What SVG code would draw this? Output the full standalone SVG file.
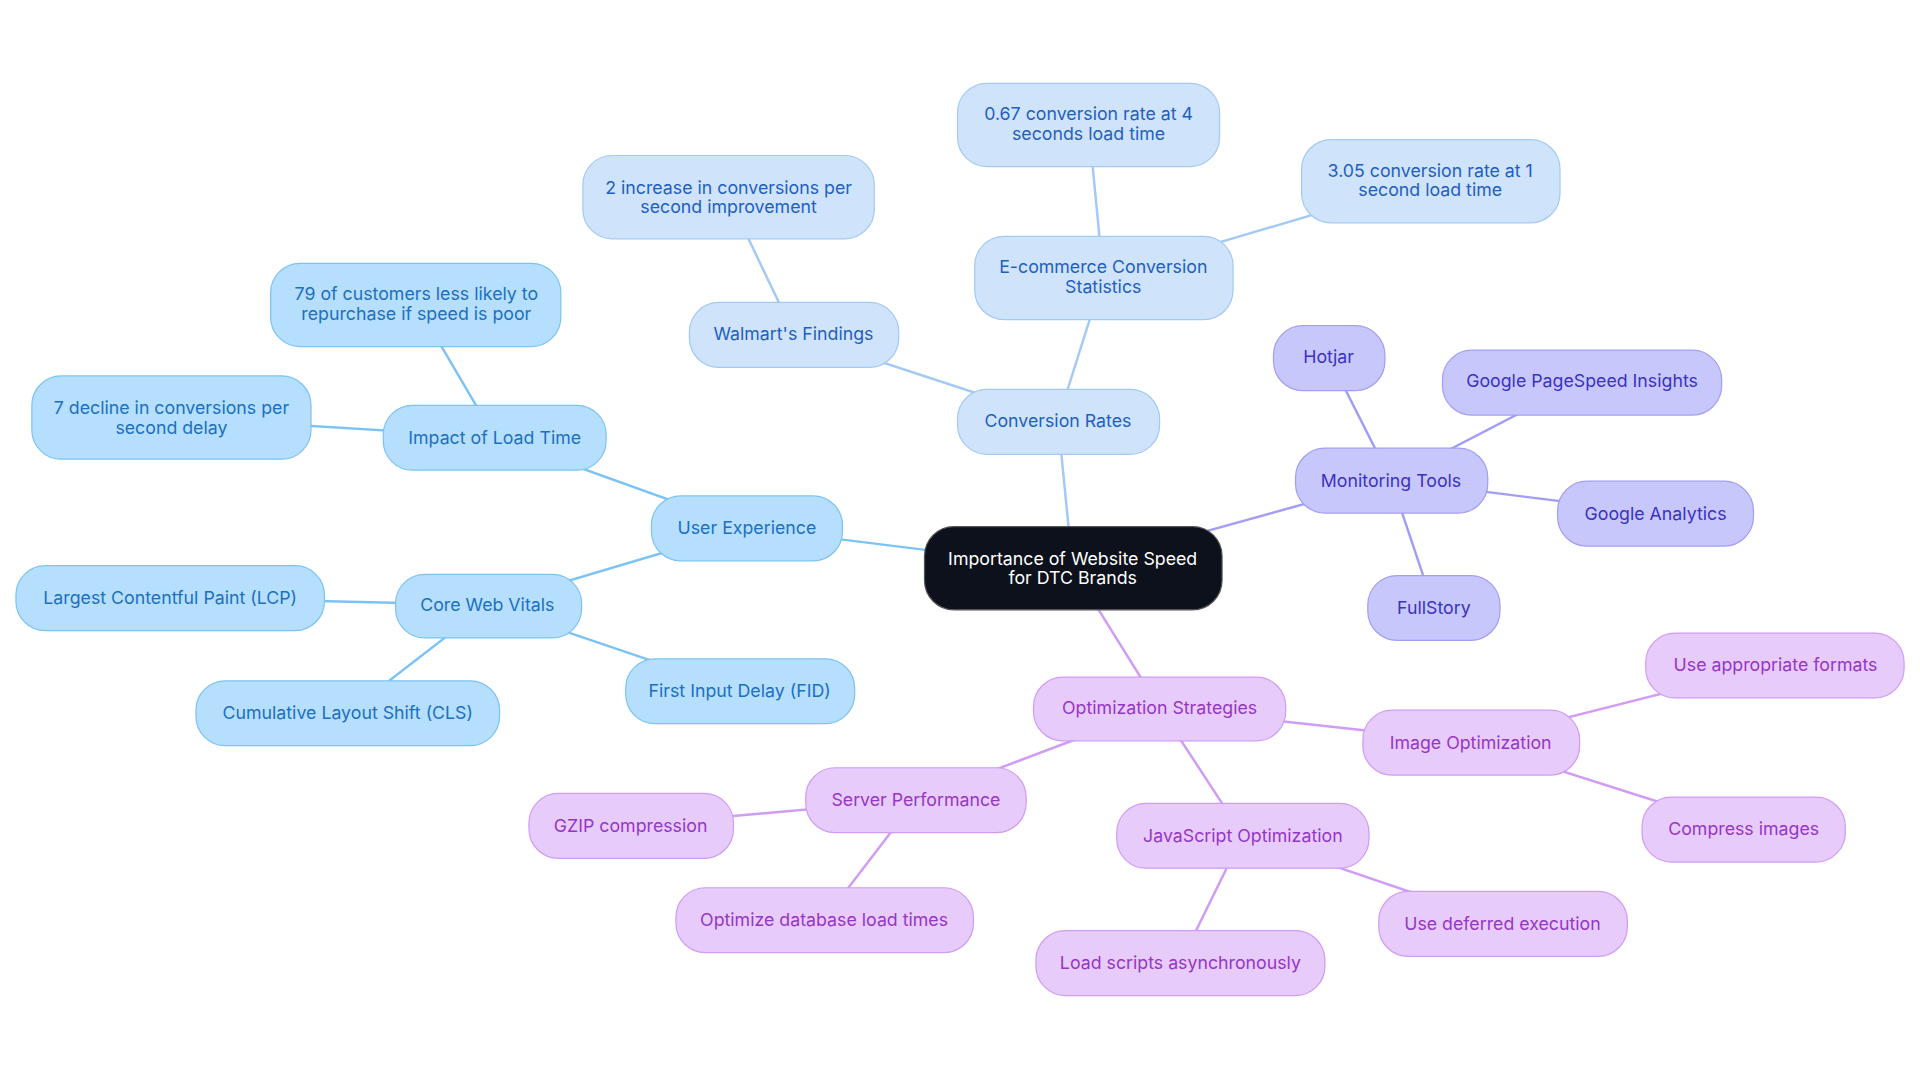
<svg xmlns="http://www.w3.org/2000/svg" width="1920" height="1083" viewBox="0 0 1920 1083">
<style>
text{font-family:Inter,"Liberation Sans",sans-serif;font-size:14.5px;text-anchor:middle;dominant-baseline:central}
.b rect{fill:#b5dffc;stroke:#7cc3f5}.b text{fill:#1c6fc2}
.c rect{fill:#cfe3fb;stroke:#a3caf5}.c text{fill:#1f5fbf}
.m rect{fill:#c8c7fb;stroke:#a29ef5}.m text{fill:#3a32c2}
.o rect{fill:#e7cbfb;stroke:#d09cf5}.o text{fill:#9636c6}
rect{stroke-width:1}
#edges line{stroke-width:2}
.eb{stroke:#7cc3f5}.ec{stroke:#a3caf5}.em{stroke:#a29ef5}.eo{stroke:#d09cf5}
</style>
<rect width="1920" height="1083" fill="#fff"/>
<g transform="scale(1.2245)">
<g id="edges">
<line class="eb" x1="876" y1="464" x2="610" y2="431"/>
<line class="eb" x1="610" y1="431" x2="404" y2="357"/>
<line class="eb" x1="404" y1="357" x2="340" y2="248"/>
<line class="eb" x1="404" y1="357" x2="140" y2="341"/>
<line class="eb" x1="610" y1="431" x2="398" y2="494"/>
<line class="eb" x1="398" y1="494" x2="139" y2="488"/>
<line class="eb" x1="398" y1="494" x2="284" y2="582"/>
<line class="eb" x1="398" y1="494" x2="604" y2="564"/>
<line class="ec" x1="876" y1="464" x2="864" y2="343"/>
<line class="ec" x1="864" y1="343" x2="648" y2="272"/>
<line class="ec" x1="648" y1="272" x2="595" y2="161"/>
<line class="ec" x1="864" y1="343" x2="901" y2="226"/>
<line class="ec" x1="901" y1="226" x2="889" y2="101"/>
<line class="ec" x1="901" y1="226" x2="1168" y2="147"/>
<line class="em" x1="876" y1="464" x2="1136" y2="392"/>
<line class="em" x1="1136" y1="392" x2="1085" y2="291"/>
<line class="em" x1="1136" y1="392" x2="1292" y2="311"/>
<line class="em" x1="1136" y1="392" x2="1352" y2="419"/>
<line class="em" x1="1136" y1="392" x2="1171" y2="496"/>
<line class="eo" x1="876" y1="464" x2="947" y2="578"/>
<line class="eo" x1="947" y1="578" x2="1201" y2="606"/>
<line class="eo" x1="1201" y1="606" x2="1450" y2="543"/>
<line class="eo" x1="1201" y1="606" x2="1424" y2="677"/>
<line class="eo" x1="947" y1="578" x2="1015" y2="682"/>
<line class="eo" x1="1015" y1="682" x2="1227" y2="754"/>
<line class="eo" x1="1015" y1="682" x2="964" y2="786"/>
<line class="eo" x1="947" y1="578" x2="748" y2="653"/>
<line class="eo" x1="748" y1="653" x2="515" y2="674"/>
<line class="eo" x1="748" y1="653" x2="673" y2="751"/>
</g>
<g id="center"><rect x="755" y="430" width="243" height="68" rx="24" fill="#0c111b" stroke="#555"/><text x="876" y="456" fill="#fff">Importance of Website Speed</text><text x="876" y="472" fill="#fff">for DTC Brands</text></g>
<g id="ux" class="b"><rect x="532" y="405" width="156" height="53" rx="24"/><text x="610" y="431">User Experience</text></g>
<g id="load" class="b"><rect x="313" y="331" width="182" height="53" rx="24"/><text x="404" y="357">Impact of Load Time</text></g>
<g id="rep" class="b"><rect x="221" y="215" width="237" height="68" rx="24"/><text x="340" y="240">79 of customers less likely to</text><text x="340" y="256">repurchase if speed is poor</text></g>
<g id="decl" class="b"><rect x="26" y="307" width="228" height="68" rx="24"/><text x="140" y="333">7 decline in conversions per</text><text x="140" y="349">second delay</text></g>
<g id="cwv" class="b"><rect x="323" y="469" width="152" height="52" rx="24"/><text x="398" y="494">Core Web Vitals</text></g>
<g id="lcp" class="b"><rect x="13" y="462" width="252" height="53" rx="24"/><text x="139" y="488">Largest Contentful Paint (LCP)</text></g>
<g id="cls" class="b"><rect x="160" y="556" width="248" height="53" rx="24"/><text x="284" y="582">Cumulative Layout Shift (CLS)</text></g>
<g id="fid" class="b"><rect x="511" y="538" width="187" height="53" rx="24"/><text x="604" y="564">First Input Delay (FID)</text></g>
<g id="conv" class="c"><rect x="782" y="318" width="165" height="53" rx="24"/><text x="864" y="343">Conversion Rates</text></g>
<g id="walmart" class="c"><rect x="563" y="247" width="171" height="53" rx="24"/><text x="648" y="272">Walmart's Findings</text></g>
<g id="inc" class="c"><rect x="476" y="127" width="238" height="68" rx="24"/><text x="595" y="153">2 increase in conversions per</text><text x="595" y="169">second improvement</text></g>
<g id="ecom" class="c"><rect x="796" y="193" width="211" height="68" rx="24"/><text x="901" y="218">E-commerce Conversion</text><text x="901" y="234">Statistics</text></g>
<g id="r067" class="c"><rect x="782" y="68" width="214" height="68" rx="24"/><text x="889" y="93">0.67 conversion rate at 4</text><text x="889" y="109">seconds load time</text></g>
<g id="r305" class="c"><rect x="1063" y="114" width="211" height="68" rx="24"/><text x="1168" y="139">3.05 conversion rate at 1</text><text x="1168" y="155">second load time</text></g>
<g id="mon" class="m"><rect x="1058" y="366" width="157" height="53" rx="24"/><text x="1136" y="392">Monitoring Tools</text></g>
<g id="hotjar" class="m"><rect x="1040" y="266" width="91" height="53" rx="24"/><text x="1085" y="291">Hotjar</text></g>
<g id="gpsi" class="m"><rect x="1178" y="286" width="228" height="53" rx="24"/><text x="1292" y="311">Google PageSpeed Insights</text></g>
<g id="ga" class="m"><rect x="1272" y="393" width="160" height="53" rx="24"/><text x="1352" y="419">Google Analytics</text></g>
<g id="fs" class="m"><rect x="1117" y="470" width="108" height="53" rx="24"/><text x="1171" y="496">FullStory</text></g>
<g id="opt" class="o"><rect x="844" y="553" width="206" height="52" rx="24"/><text x="947" y="578">Optimization Strategies</text></g>
<g id="img" class="o"><rect x="1113" y="580" width="177" height="53" rx="24"/><text x="1201" y="606">Image Optimization</text></g>
<g id="fmt" class="o"><rect x="1344" y="517" width="211" height="53" rx="24"/><text x="1450" y="543">Use appropriate formats</text></g>
<g id="cmp" class="o"><rect x="1341" y="651" width="166" height="53" rx="24"/><text x="1424" y="677">Compress images</text></g>
<g id="js" class="o"><rect x="912" y="656" width="206" height="53" rx="24"/><text x="1015" y="682">JavaScript Optimization</text></g>
<g id="defer" class="o"><rect x="1126" y="728" width="203" height="53" rx="24"/><text x="1227" y="754">Use deferred execution</text></g>
<g id="async" class="o"><rect x="846" y="760" width="236" height="53" rx="24"/><text x="964" y="786">Load scripts asynchronously</text></g>
<g id="srv" class="o"><rect x="658" y="627" width="180" height="53" rx="24"/><text x="748" y="653">Server Performance</text></g>
<g id="gzip" class="o"><rect x="432" y="648" width="167" height="53" rx="24"/><text x="515" y="674">GZIP compression</text></g>
<g id="db" class="o"><rect x="552" y="725" width="243" height="53" rx="24"/><text x="673" y="751">Optimize database load times</text></g>
</g>
</svg>
